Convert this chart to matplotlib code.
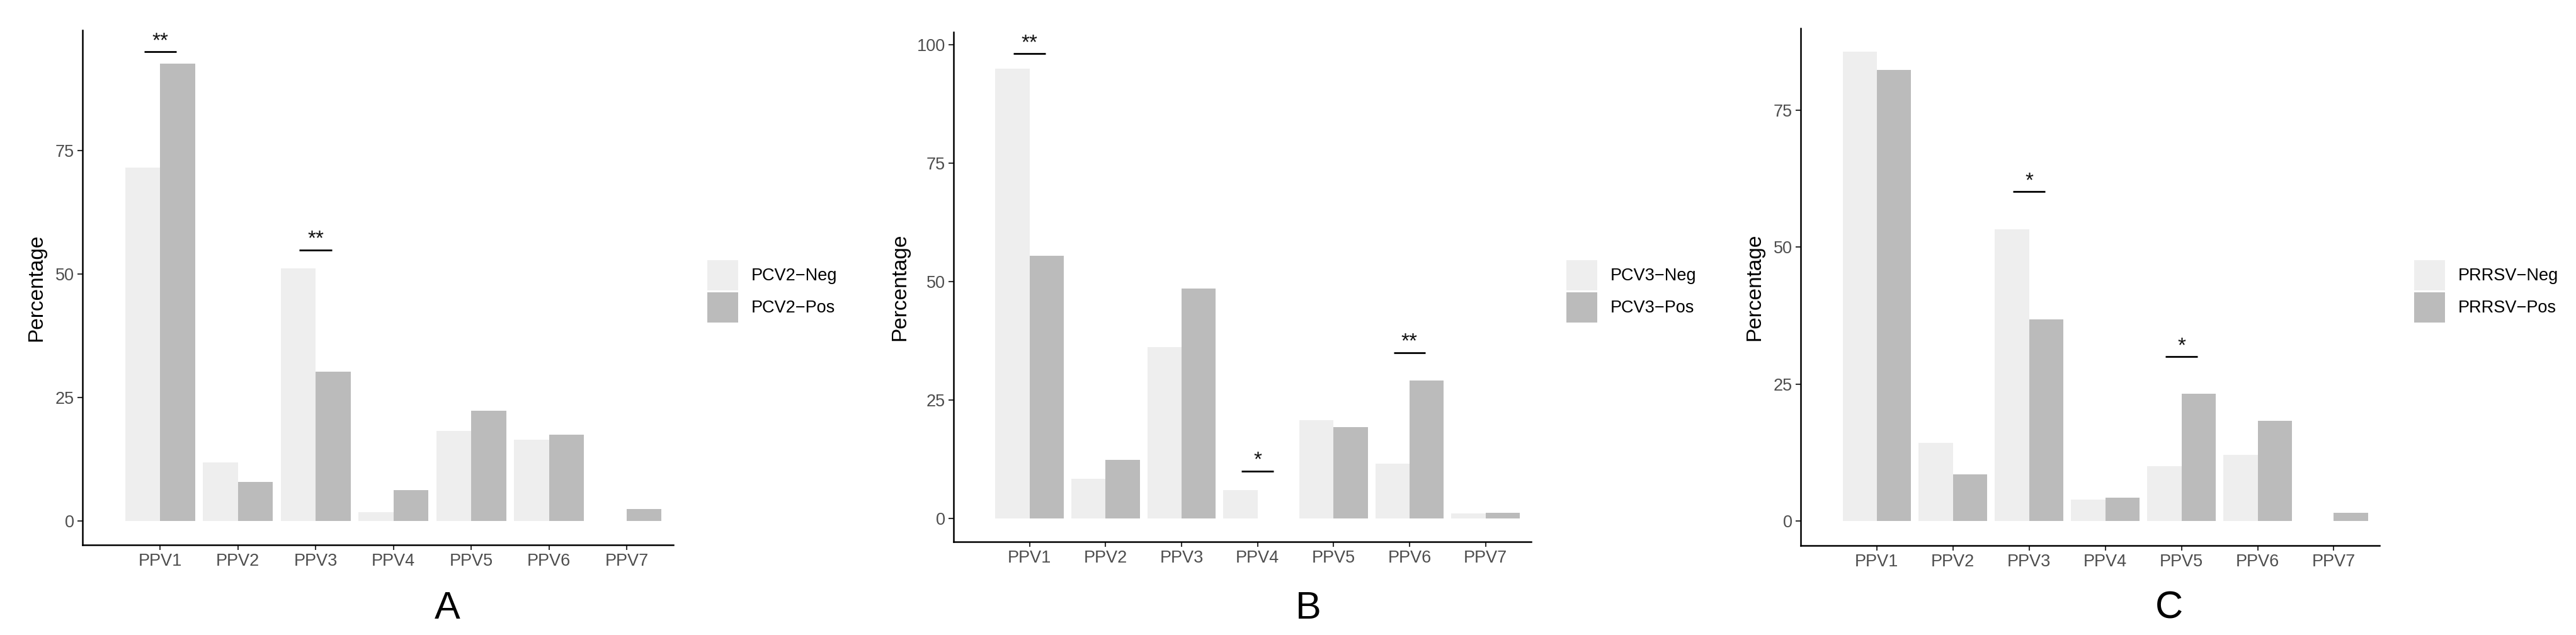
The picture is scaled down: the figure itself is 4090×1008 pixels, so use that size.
import matplotlib
matplotlib.use("Agg")
import matplotlib.pyplot as plt
import numpy as np

plt.rcParams['font.family'] = ['Liberation Sans', 'DejaVu Sans']

categories = ["PPV1", "PPV2", "PPV3", "PPV4", "PPV5", "PPV6", "PPV7"]

# panel A - PCV2
pcv2_neg = [71.6, 11.9, 51.2, 1.8, 18.2, 16.5, 0.0]
pcv2_pos = [92.6, 7.9, 30.3, 6.3, 22.3, 17.5, 2.4]
pcv2_sig_idx = [0, 2]
pcv2_sig_y = [95.0, 54.9]
pcv2_sig_lab = ["**", "**"]

# panel B - PCV3
pcv3_neg = [95.0, 8.4, 36.2, 6.0, 20.7, 11.6, 1.0]
pcv3_pos = [55.4, 12.3, 48.5, 0.0, 19.2, 29.1, 1.2]
pcv3_sig_idx = [0, 3, 5]
pcv3_sig_y = [98.1, 10.0, 35.0]
pcv3_sig_lab = ["**", "*", "**"]

# panel C - PRRSV
prrsv_neg = [85.7, 14.3, 53.2, 3.9, 10.1, 12.1, 0.0]
prrsv_pos = [82.3, 8.6, 36.8, 4.3, 23.3, 18.3, 1.55]
prrsv_sig_idx = [2, 4]
prrsv_sig_y = [60.1, 30.0]
prrsv_sig_lab = ["*", "*"]

neg_color = "#EEEEEE"
pos_color = "#BBBBBB"

W, H = 4091, 1008
fig = plt.figure(figsize=(W / 100, H / 100), dpi=100)

panels = [
    ("PCV2", pcv2_neg, pcv2_pos, pcv2_sig_idx, pcv2_sig_y, pcv2_sig_lab, "A",
     (131, 1069, 48, 865), (-4.85, 99.4), [0, 25, 50, 75], 58, 1123, 710),
    ("PCV3", pcv3_neg, pcv3_pos, pcv3_sig_idx, pcv3_sig_y, pcv3_sig_lab, "B",
     (1514, 2431, 51, 860), (-4.96, 102.65), [0, 25, 50, 75, 100], 1429, 2487, 2077),
    ("PRRSV", prrsv_neg, prrsv_pos, prrsv_sig_idx, prrsv_sig_y, prrsv_sig_lab, "C",
     (2859, 3778, 45, 866), (-4.43, 89.9), [0, 25, 50, 75], 2786, 3833, 3444),
]

x = np.arange(len(categories))
bw = 0.45

for name, neg, pos, sidx, sy, slab, letter, box, ylim, yticks, ylab_x, leg_x, let_x in panels:
    l, r, t, b = box
    ax = fig.add_axes([l / W, 1 - b / H, (r - l) / W, (b - t) / H])
    ax.bar(x - bw / 2, neg, width=bw, color=neg_color, label=name + "\u2212Neg")
    ax.bar(x + bw / 2, pos, width=bw, color=pos_color, label=name + "\u2212Pos")

    for i, yy, lab in zip(sidx, sy, slab):
        ax.plot([i - 0.21, i + 0.21], [yy, yy], color="black", lw=2.0, solid_capstyle="butt")
        ax.annotate(lab, (i, yy), xytext=(0, 1), textcoords="offset points",
                    ha="center", va="bottom", fontsize=24, color="#111111")

    ax.set_xlim(-1.0, 6.6)
    ax.set_ylim(*ylim)
    ax.set_xticks(x)
    ax.set_xticklabels(categories)
    ax.set_yticks(yticks)
    ax.tick_params(axis="both", labelsize=19.5, labelcolor="#4D4D4D", color="#333333",
                   length=5.5, width=1.5, pad=4)
    for s in ["top", "right"]:
        ax.spines[s].set_visible(False)
    for s in ["left", "bottom"]:
        ax.spines[s].set_linewidth(1.8)
        ax.spines[s].set_color("black")
    ax.patch.set_alpha(0)

    ax.set_ylabel("Percentage", fontsize=24, color="black")
    ax.yaxis.label.set_verticalalignment("center")
    ax.yaxis.label.set_horizontalalignment("center")
    ax.yaxis.set_label_coords((ylab_x - l) / (r - l), 0.5)

    ax.legend(loc="upper left", bbox_to_anchor=(leg_x / W, 1 - 413 / H),
              bbox_transform=fig.transFigure, frameon=False, fontsize=19.5,
              handlelength=1.81, handleheight=2.35, labelspacing=0.1,
              handletextpad=0.75, borderpad=0, borderaxespad=0)

    fig.text(let_x / W, 1 - 966 / H, letter, ha="center", va="center", fontsize=44)

fig.savefig("out.png", dpi=100)
